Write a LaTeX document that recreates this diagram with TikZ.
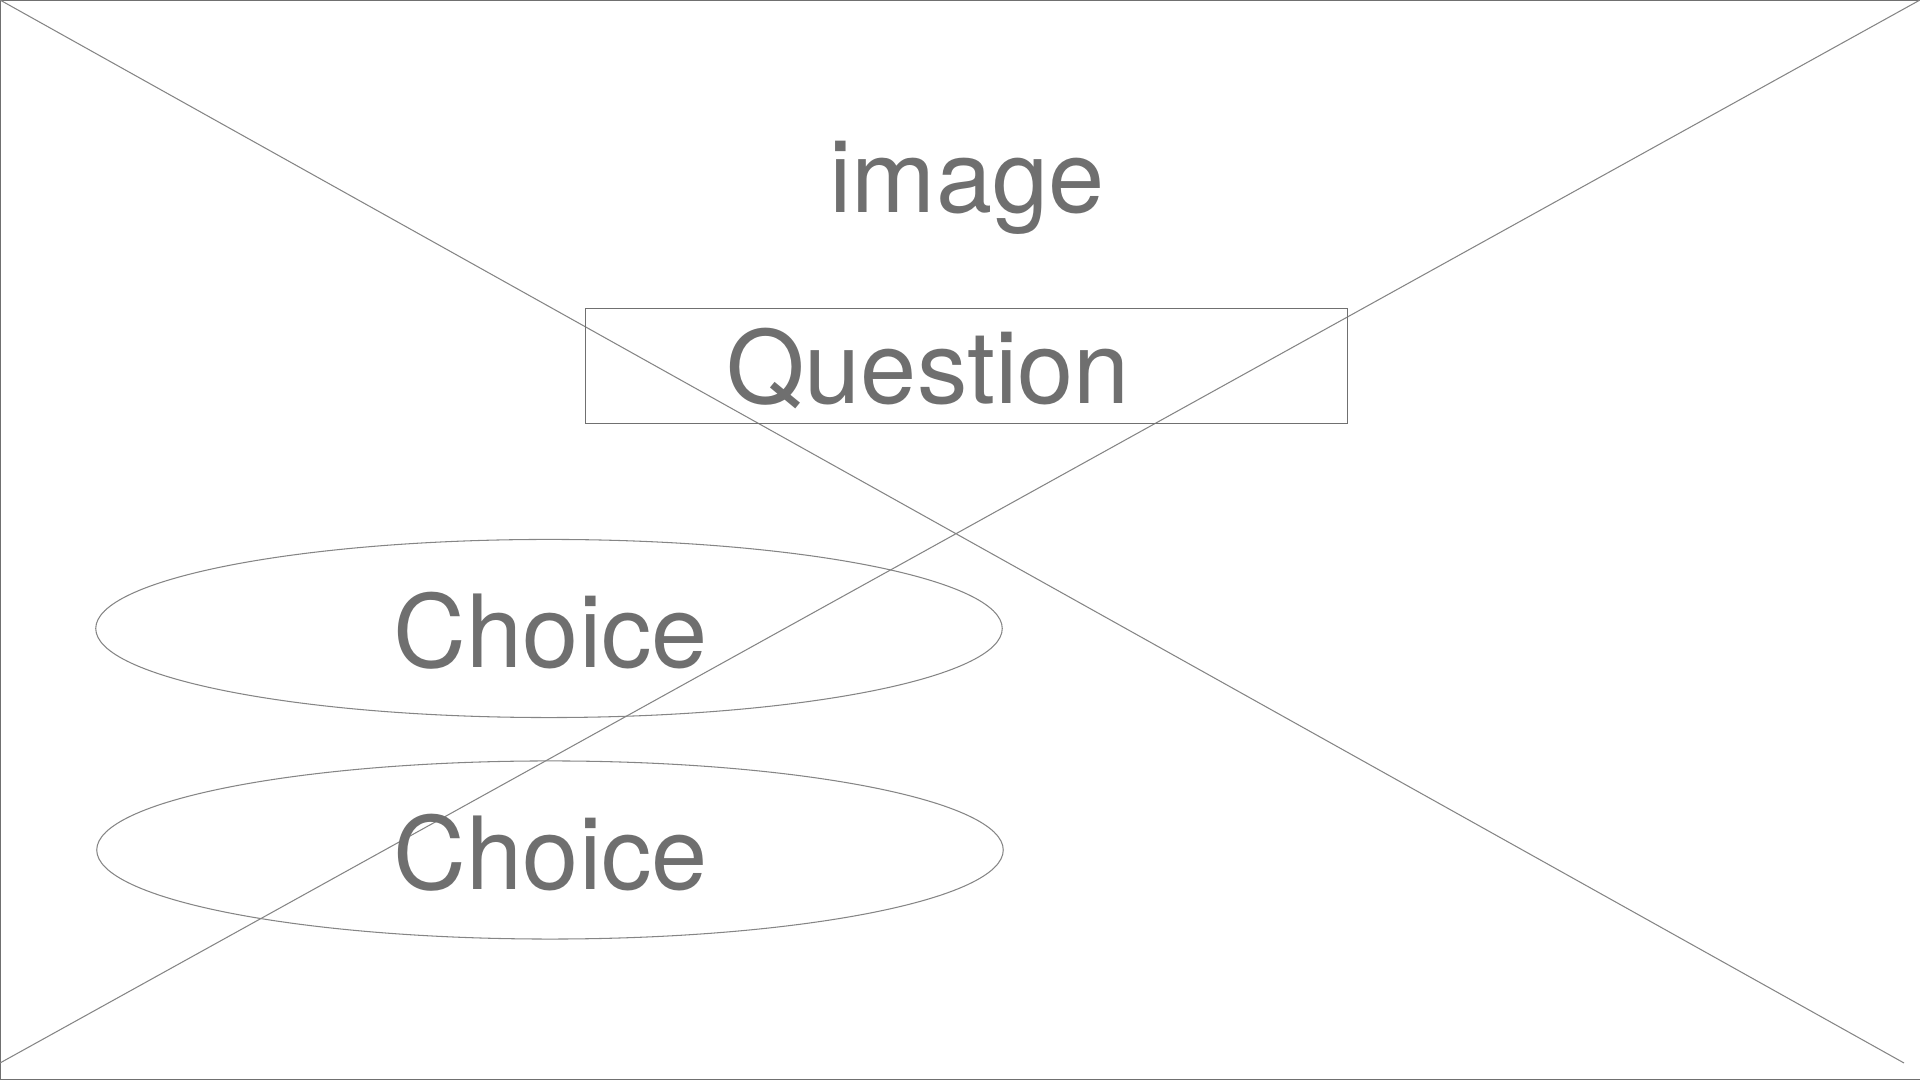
\documentclass[tikz,border=0pt]{standalone}
\usepackage{fontspec}
\setmainfont{TeX Gyre Heros}
\usetikzlibrary{shapes.geometric}
\definecolor{wiretext}{HTML}{6F6F6F}
\definecolor{wireline}{HTML}{858585}
\definecolor{wirebox}{HTML}{707070}

\begin{document}
\begin{tikzpicture}[x=0.01cm,y=-0.01cm,
  wiretxt/.style={text=wiretext,font=\fontsize{28.7}{34}\selectfont,anchor=base,inner sep=0pt},
  qbox/.style={draw=wirebox,line width=0.3pt,minimum width=7.61cm,minimum height=1.15cm,inner sep=0pt},
  choicebox/.style={draw=wireline,line width=0.3pt,ellipse,minimum width=9.06cm,minimum height=1.78cm,inner sep=0pt}]
\useasboundingbox (0,0) rectangle (1920,1080);
% frame and placeholder cross
\coordinate (TL) at (0,0);
\coordinate (TR) at (1920,0);
\coordinate (BL) at (0,1080);
\coordinate (BR) at (1920,1080);
\coordinate (XA) at (1904,1063);
\coordinate (XB) at (0,1063);
\draw[wirebox,line width=0.57pt] (TR)--(TL)--(BL)--(BR);
\draw[wireline,line width=0.3pt] (TL)--(XA) (TR)--(XB);
% texts and boxes
\node[wiretxt] (imagetext) at (967,213) {image};
\node[qbox] (question) at (966.5,365.7) {};
\node[wiretxt] (qtext) at (928,404) {Question};
\node[choicebox] (choiceA) at (549,628.5) {};
\node[wiretxt] (choiceAtext) at (551,668) {Choice};
\node[choicebox] (choiceB) at (550,850) {};
\node[wiretxt] (choiceBtext) at (551,889.5) {Choice};
\end{tikzpicture}
\end{document}
